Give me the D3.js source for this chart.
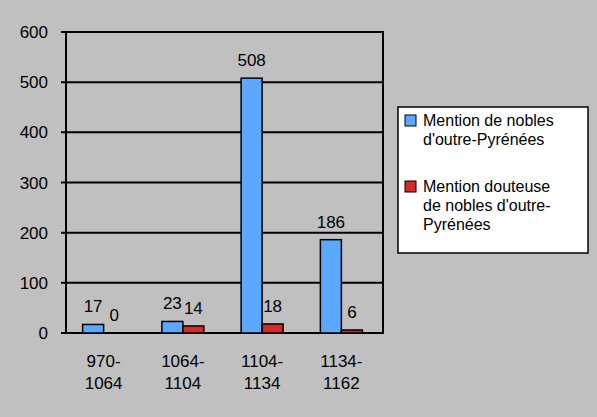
<!DOCTYPE html>
<html><head><meta charset="utf-8">
<script src="https://cdn.jsdelivr.net/npm/d3@7"></script>
<style>body{margin:0;background:#c0c0c0}svg{font-family:Arial,"Liberation Sans",sans-serif}</style>
</head><body><svg width="597" height="417"></svg>
<script>
var categories = [["970-","1064"],["1064-","1104"],["1104-","1134"],["1134-","1162"]];
var sure = [17, 23, 508, 186];
var doubtful = [0, 14, 18, 6];
var yTicks = [0, 100, 200, 300, 400, 500, 600];
var seriesNames = [["Mention de nobles","d'outre-Pyrénées"],["Mention douteuse","de nobles d'outre-","Pyrénées"]];
var colors = ["#5ca8ff", "#d42a2a"];

var svg = d3.select("svg");
var pLeft = 66, pRight = 383, pTop = 32, pBottom = 333;
var y = d3.scaleLinear().domain([0, 600]).range([pBottom, pTop]);
var x = d3.scaleBand().domain(d3.range(4)).range([pLeft, pRight]);

svg.append("rect").attr("x", pLeft).attr("y", pTop).attr("width", pRight-pLeft).attr("height", pBottom-pTop)
  .attr("fill", "#c0c0c0").attr("stroke", "#000").attr("stroke-width", 2);

svg.selectAll(".grid").data(yTicks).enter().append("line")
  .attr("x1", pLeft-5).attr("x2", pRight).attr("y1", d => y(d)).attr("y2", d => y(d))
  .attr("stroke", "#000").attr("stroke-width", 2);
svg.selectAll(".yl").data(yTicks).enter().append("text")
  .attr("x", 48).attr("y", d => y(d)+6).attr("text-anchor", "end").attr("font-size", 17).text(d => d);

var bw = 21;
var series = [sure, doubtful];
series.forEach(function(vals, s){
  svg.selectAll(".b"+s).data(vals).enter().append("rect")
    .attr("x", (d,i) => x(i) + x.bandwidth()/2 - bw - 2 + s*bw)
    .attr("y", d => y(d)).attr("width", bw).attr("height", d => pBottom - y(d))
    .attr("fill", colors[s]).attr("stroke", "#000").attr("stroke-width", 1.5);
  svg.selectAll(".l"+s).data(vals).enter().append("text")
    .attr("x", (d,i) => x(i) + x.bandwidth()/2 - bw/2 - 2 + s*bw)
    .attr("y", d => y(d) - 12).attr("text-anchor", "middle").attr("font-size", 17).text(d => d);
});

categories.forEach(function(c, i){
  var t = svg.append("text").attr("text-anchor", "middle").attr("font-size", 17);
  c.forEach(function(line, k){
    t.append("tspan").attr("x", x(i) + x.bandwidth()/2 - 2).attr("y", 367 + k*22).text(line);
  });
});

var lg = svg.append("g");
lg.append("rect").attr("x", 398).attr("y", 107).attr("width", 190).attr("height", 146)
  .attr("fill", "#fff").attr("stroke", "#000").attr("stroke-width", 1.5);
var starts = [125, 191];
seriesNames.forEach(function(lines, s){
  lg.append("rect").attr("x", 405).attr("y", starts[s]-10).attr("width", 11).attr("height", 11)
    .attr("fill", colors[s]).attr("stroke", "#000");
  var t = lg.append("text").attr("font-size", 16);
  lines.forEach(function(line, k){
    t.append("tspan").attr("x", 423).attr("y", starts[s] + 1 + k*19).text(line);
  });
});
</script></body></html>
